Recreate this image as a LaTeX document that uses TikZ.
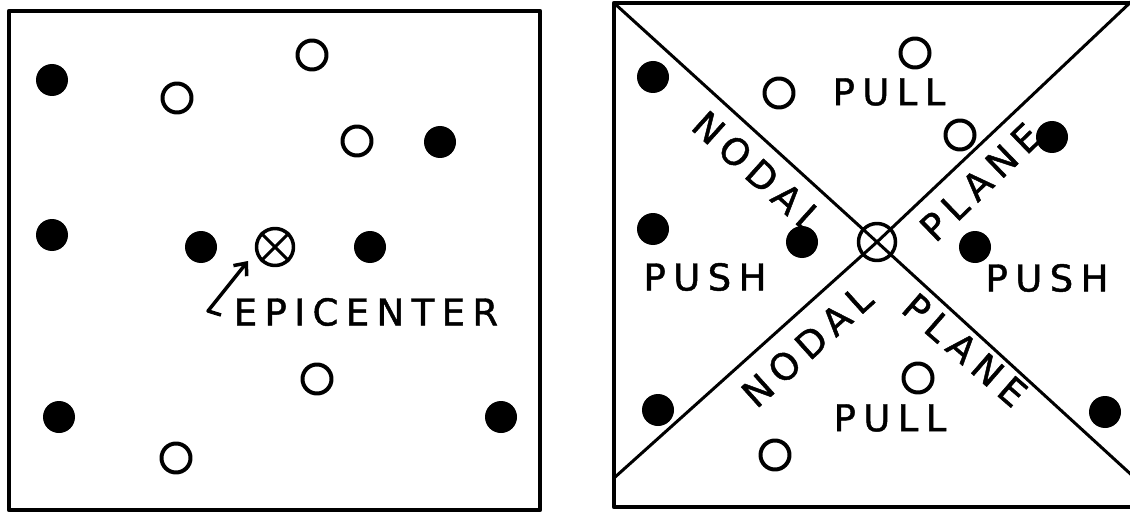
\documentclass[tikz,border=0pt]{standalone}
\usepackage{fontspec}
\newfontfamily\handfont[LetterSpace=20, FakeBold=1.2]{DejaVu Sans}
\usetikzlibrary{arrows.meta}

\begin{document}
\begin{tikzpicture}[x=1pt, y=-1pt, line join=round, >={Straight Barb[length=10pt,width=17pt]},
	push/.style={circle, fill=black, minimum size=32pt, inner sep=0pt},
	pull/.style={circle, draw, line width=4pt, minimum size=29pt, inner sep=0pt},
	epi/.style={circle, draw, line width=3.5pt, minimum size=37pt, inner sep=0pt},
	lbl/.style={font=\handfont\fontsize{37}{44}\selectfont, inner sep=0pt}]
	\useasboundingbox (0,0) rectangle (1130,516);
	
	% Left Box
	\draw[line width=4.5pt] (9,11) rectangle (540,510);
	
	% Left Box Stations
	\node[push] (lp1) at (52,80) {};
	\node[push] (lp2) at (52,235) {};
	\node[push] (lp3) at (59,417) {};
	\node[push] (lp4) at (201,247) {};
	\node[push] (lp5) at (370,247) {};
	\node[push] (lp6) at (440,142) {};
	\node[push] (lp7) at (501,417) {};
	
	\node[pull] (lq1) at (312,55) {};
	\node[pull] (lq2) at (177,98) {};
	\node[pull] (lq3) at (357,141) {};
	\node[pull] (lq4) at (317,379) {};
	\node[pull] (lq5) at (176,458) {};
	
	% Left Epicenter
	\node[epi] (epiL) at (275,247) {};
	\draw[line width=3pt] (epiL.45) -- (epiL.225);
	\draw[line width=3pt] (epiL.135) -- (epiL.315);
	
	\coordinate (hook) at (221,315);
	\coordinate (tail) at (208,311);
	\coordinate (tip) at (248,261);
	\draw[line width=3.5pt, ->] (hook) -- (tail) -- (tip);
	\node[lbl] (epiText) at (366,312) {EPICENTER};
	
	% Right Box
	\draw[line width=4.5pt] (614,3) rectangle (1140,507);
	
	% Right Epicenter and Nodal Planes
	\node[epi] (epiR) at (877,242) {};
	\coordinate (nwR) at (614,3);
	\coordinate (seR) at (1136,479);
	\coordinate (swR) at (614,478);
	\coordinate (neR) at (1134,-1);
	\draw[line width=3pt] (nwR) -- (epiR.center) -- (seR); % plane 1
	\draw[line width=3pt] (swR) -- (epiR.center) -- (neR); % plane 2
	
	% Right Box Stations
	\node[push] (rp1) at (653,77) {};
	\node[push] (rp2) at (653,229) {};
	\node[push] (rp3) at (802,242) {};
	\node[push] (rp4) at (975,247) {};
	\node[push] (rp5) at (1052,137) {};
	\node[push] (rp6) at (658,410) {};
	\node[push] (rp7) at (1105,412) {};
	
	\node[pull, fill=white] (rq1) at (915,53) {};
	\node[pull, fill=white] (rq2) at (779,93) {};
	\node[pull, fill=white] (rq3) at (960,135) {};
	\node[pull, fill=white] (rq4) at (918,378) {};
	\node[pull, fill=white] (rq5) at (775,455) {};
	
	% Labels
	\node[lbl] (pullTop) at (889,92) {PULL};
	\node[lbl] (pullBot) at (890,418) {PULL};
	\node[lbl] (pushL) at (705,277) {PUSH};
	\node[lbl] (pushR) at (1047,278) {PUSH};
	\node[lbl, rotate=-42] (nodalA) at (758,172) {NODAL};
	\node[lbl, rotate=44] (planeA) at (980,182) {PLANE};
	\node[lbl, rotate=42] (nodalB) at (807,346) {NODAL};
	\node[lbl, rotate=-41] (planeB) at (965,350) {PLANE};
\end{tikzpicture}
\end{document}
